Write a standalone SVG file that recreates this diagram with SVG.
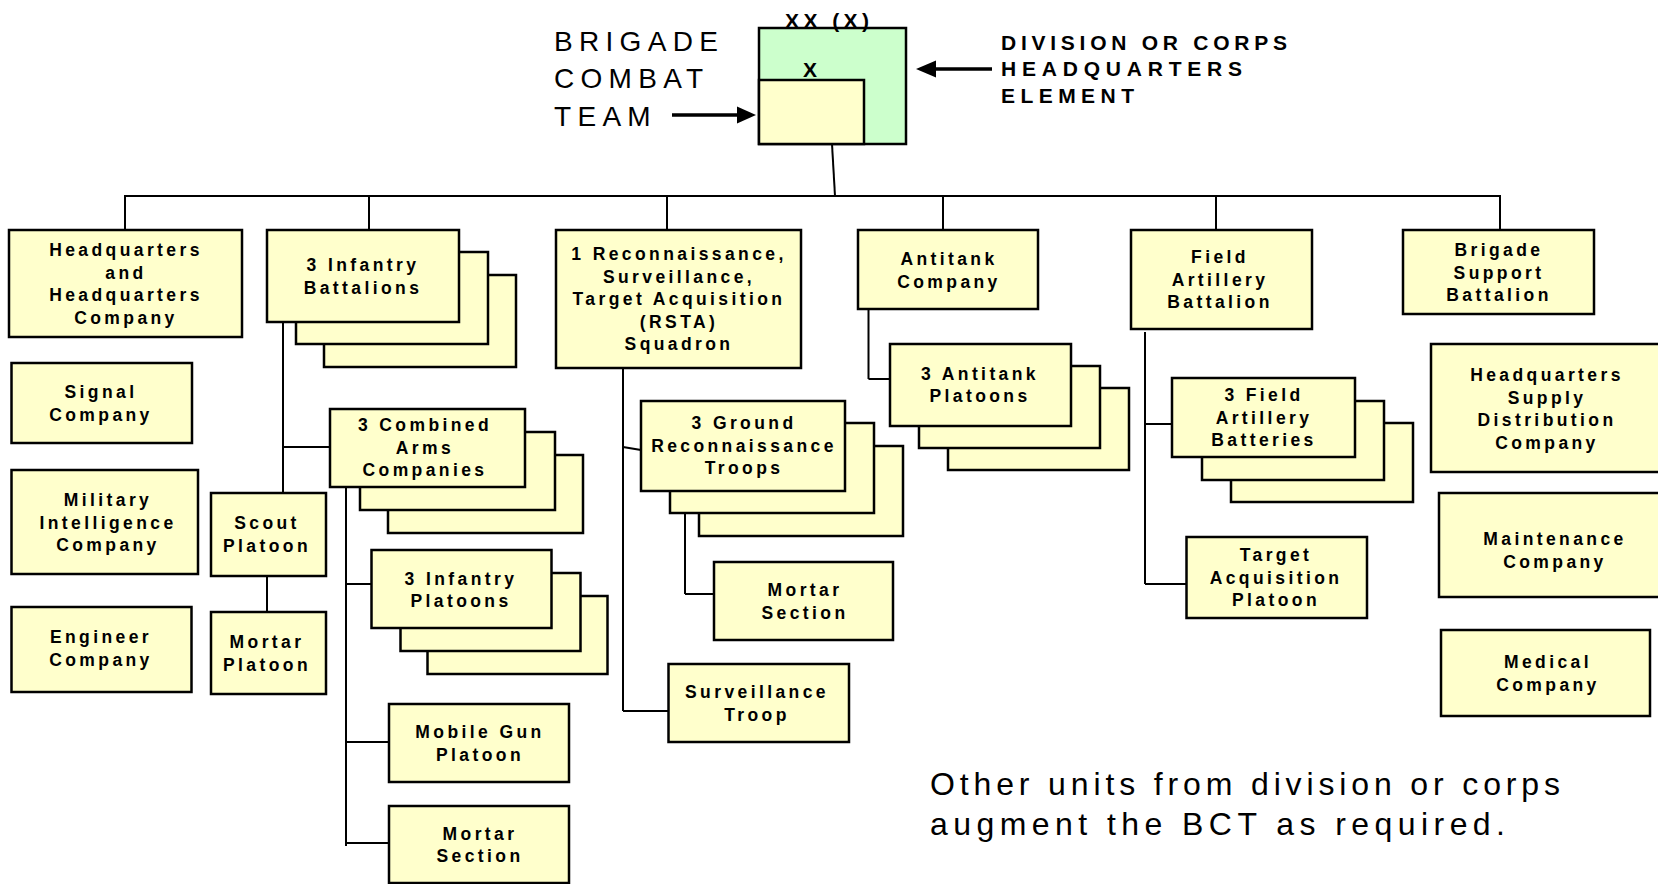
<svg xmlns="http://www.w3.org/2000/svg" width="1658" height="884" viewBox="0 0 1658 884">
<style>
.box{fill:#FFFFCC;stroke:#000;stroke-width:2.5}
.green{fill:#CCFFCC;stroke:#000;stroke-width:2.5}
.t{font-family:"Liberation Sans",Arial,sans-serif;font-weight:bold;font-size:17.5px;letter-spacing:3.4px;text-anchor:middle;fill:#000}
.big{font-family:"Liberation Sans",Arial,sans-serif;font-size:28px;letter-spacing:6.3px;fill:#000}
.hdr{font-family:"Liberation Sans",Arial,sans-serif;font-weight:bold;font-size:21px;fill:#000}
.note{font-family:"Liberation Sans",Arial,sans-serif;font-size:32px;fill:#000}
.conn line{stroke:#000;stroke-width:2;fill:none}
.arr{stroke:#000;stroke-width:3.5}
</style>
<rect width="1658" height="884" fill="#fff"/>

<g id="bct">
<rect class="green" x="759" y="28" width="147" height="116"/>
<rect class="box" x="759" y="80" width="105" height="64"/>
<text class="hdr" x="785" y="28" textLength="84" lengthAdjust="spacing">XX (X)</text>
<text class="hdr" x="810" y="77" text-anchor="middle" font-size="18">X</text>
</g>

<g id="label-bct">
<text class="big" x="554" y="51">BRIGADE</text>
<text class="big" x="554" y="88">COMBAT</text>
<text class="big" x="554" y="126">TEAM</text>
<line class="arr" x1="672" y1="115" x2="740" y2="115"/>
<polygon points="737,106.5 756,115 737,123.5" fill="#000"/>
</g>

<g id="label-div">
<text class="hdr" x="1001" y="50" textLength="286" lengthAdjust="spacing">DIVISION OR CORPS</text>
<text class="hdr" x="1001" y="76" textLength="241" lengthAdjust="spacing">HEADQUARTERS</text>
<text class="hdr" x="1001" y="103" textLength="133" lengthAdjust="spacing">ELEMENT</text>
<line class="arr" x1="933" y1="69" x2="992" y2="69"/>
<polygon points="936,60.5 916,69 936,77.5" fill="#000"/>
</g>

<g id="connectors" class="conn">
<line x1="832" y1="144" x2="835" y2="196"/>
<line x1="124" y1="196" x2="1501" y2="196"/>
<line x1="125" y1="196" x2="125" y2="230"/>
<line x1="369" y1="196" x2="369" y2="230"/>
<line x1="667" y1="196" x2="667" y2="230"/>
<line x1="943" y1="196" x2="943" y2="230"/>
<line x1="1216" y1="196" x2="1216" y2="230"/>
<line x1="1500" y1="196" x2="1500" y2="230"/>
<line x1="283" y1="322" x2="283" y2="493"/>
<line x1="283" y1="447" x2="330" y2="447"/>
<line x1="267" y1="576" x2="267" y2="612"/>
<line x1="346" y1="487" x2="346" y2="846"/>
<line x1="346" y1="584" x2="371.5" y2="584"/>
<line x1="346" y1="742" x2="389" y2="742"/>
<line x1="346" y1="843" x2="389" y2="843"/>
<line x1="623" y1="368" x2="623" y2="711"/>
<line x1="623" y1="711" x2="668.5" y2="711"/>
<line x1="623" y1="447" x2="641" y2="450"/>
<line x1="685" y1="491" x2="685" y2="594"/>
<line x1="685" y1="594" x2="714" y2="594"/>
<line x1="868.5" y1="307" x2="868.5" y2="379"/>
<line x1="868.5" y1="379" x2="890" y2="379"/>
<line x1="1145" y1="332" x2="1145" y2="584"/>
<line x1="1145" y1="424" x2="1172" y2="424"/>
<line x1="1145" y1="584" x2="1186.5" y2="584"/>
</g>

<g id="hhc">
<rect class="box" x="9" y="230" width="233" height="107"/>
<text class="t" x="126" y="256">Headquarters</text>
<text class="t" x="126" y="278.5">and</text>
<text class="t" x="126" y="301">Headquarters</text>
<text class="t" x="126" y="323.5">Company</text>
</g>

<g id="signal">
<rect class="box" x="11.5" y="363" width="180.5" height="80"/>
<text class="t" x="101" y="398">Signal</text>
<text class="t" x="101" y="420.5">Company</text>
</g>

<g id="mi">
<rect class="box" x="11.5" y="470" width="186.5" height="104"/>
<text class="t" x="108" y="506">Military</text>
<text class="t" x="108" y="528.5">Intelligence</text>
<text class="t" x="108" y="551">Company</text>
</g>

<g id="engineer">
<rect class="box" x="11.5" y="607" width="180" height="85"/>
<text class="t" x="101" y="643">Engineer</text>
<text class="t" x="101" y="665.5">Company</text>
</g>

<g id="inf-bn">
<rect class="box" x="324" y="275" width="192" height="92"/>
<rect class="box" x="296" y="252" width="192" height="92"/>
<rect class="box" x="267" y="230" width="192" height="92"/>
<text class="t" x="363" y="271">3 Infantry</text>
<text class="t" x="363" y="293.5">Battalions</text>
</g>

<g id="scout">
<rect class="box" x="211" y="493" width="115" height="83"/>
<text class="t" x="267" y="529">Scout</text>
<text class="t" x="267" y="551.5">Platoon</text>
</g>

<g id="mortar-plt">
<rect class="box" x="211" y="612" width="115" height="82"/>
<text class="t" x="267" y="648">Mortar</text>
<text class="t" x="267" y="670.5">Platoon</text>
</g>

<g id="cab-co">
<rect class="box" x="388" y="455" width="195" height="78"/>
<rect class="box" x="360" y="432" width="195" height="78"/>
<rect class="box" x="330" y="409" width="195" height="78"/>
<text class="t" x="425" y="431">3 Combined</text>
<text class="t" x="425" y="453.5">Arms</text>
<text class="t" x="425" y="476">Companies</text>
</g>

<g id="inf-plt">
<rect class="box" x="427.5" y="596" width="180" height="78"/>
<rect class="box" x="400.5" y="573" width="180" height="78"/>
<rect class="box" x="371.5" y="550" width="180" height="78"/>
<text class="t" x="461" y="584.5">3 Infantry</text>
<text class="t" x="461" y="607">Platoons</text>
</g>

<g id="mgs">
<rect class="box" x="389" y="704" width="180" height="78"/>
<text class="t" x="480" y="738">Mobile Gun</text>
<text class="t" x="480" y="760.5">Platoon</text>
</g>

<g id="mortar-sec-1">
<rect class="box" x="389" y="806" width="180" height="77"/>
<text class="t" x="480" y="839.5">Mortar</text>
<text class="t" x="480" y="862">Section</text>
</g>

<g id="rsta">
<rect class="box" x="556" y="230" width="245" height="138"/>
<text class="t" x="679" y="260">1 Reconnaissance,</text>
<text class="t" x="679" y="282.5">Surveillance,</text>
<text class="t" x="679" y="305">Target Acquisition</text>
<text class="t" x="679" y="327.5">(RSTA)</text>
<text class="t" x="679" y="350">Squadron</text>
</g>

<g id="grd-recon">
<rect class="box" x="699" y="446" width="204" height="90"/>
<rect class="box" x="670" y="423" width="204" height="90"/>
<rect class="box" x="641" y="401" width="204" height="90"/>
<text class="t" x="744" y="429">3 Ground</text>
<text class="t" x="744" y="451.5">Reconnaissance</text>
<text class="t" x="744" y="474">Troops</text>
</g>

<g id="mortar-sec-2">
<rect class="box" x="714" y="562" width="179" height="78"/>
<text class="t" x="805" y="596">Mortar</text>
<text class="t" x="805" y="618.5">Section</text>
</g>

<g id="surv-troop">
<rect class="box" x="668.5" y="664" width="180.5" height="78"/>
<text class="t" x="757" y="698">Surveillance</text>
<text class="t" x="757" y="720.5">Troop</text>
</g>

<g id="at-co">
<rect class="box" x="858" y="230" width="180" height="79"/>
<text class="t" x="949" y="265">Antitank</text>
<text class="t" x="949" y="287.5">Company</text>
</g>

<g id="at-plt">
<rect class="box" x="948" y="388" width="181" height="82"/>
<rect class="box" x="919" y="366" width="181" height="82"/>
<rect class="box" x="890" y="344" width="181" height="82"/>
<text class="t" x="980" y="379.5">3 Antitank</text>
<text class="t" x="980" y="402">Platoons</text>
</g>

<g id="fa-bn">
<rect class="box" x="1131" y="230" width="181" height="99"/>
<text class="t" x="1220" y="263">Field</text>
<text class="t" x="1220" y="285.5">Artillery</text>
<text class="t" x="1220" y="308">Battalion</text>
</g>

<g id="fa-btry">
<rect class="box" x="1231" y="423" width="182" height="79"/>
<rect class="box" x="1202" y="401" width="182" height="79"/>
<rect class="box" x="1172" y="378" width="183" height="79"/>
<text class="t" x="1264" y="401">3 Field</text>
<text class="t" x="1264" y="423.5">Artillery</text>
<text class="t" x="1264" y="446">Batteries</text>
</g>

<g id="ta-plt">
<rect class="box" x="1186.5" y="537" width="180.5" height="81"/>
<text class="t" x="1276" y="561">Target</text>
<text class="t" x="1276" y="583.5">Acquisition</text>
<text class="t" x="1276" y="606">Platoon</text>
</g>

<g id="bsb">
<rect class="box" x="1403" y="230" width="191" height="84"/>
<text class="t" x="1499" y="256">Brigade</text>
<text class="t" x="1499" y="278.5">Support</text>
<text class="t" x="1499" y="301">Battalion</text>
</g>

<g id="hq-supply">
<rect class="box" x="1431" y="344" width="235" height="128"/>
<text class="t" x="1547" y="381">Headquarters</text>
<text class="t" x="1547" y="403.5">Supply</text>
<text class="t" x="1547" y="426">Distribution</text>
<text class="t" x="1547" y="448.5">Company</text>
</g>

<g id="maint">
<rect class="box" x="1439" y="493" width="225" height="104"/>
<text class="t" x="1555" y="545">Maintenance</text>
<text class="t" x="1555" y="567.5">Company</text>
</g>

<g id="medical">
<rect class="box" x="1441" y="630" width="209" height="86"/>
<text class="t" x="1548" y="668">Medical</text>
<text class="t" x="1548" y="690.5">Company</text>
</g>

<g id="note">
<text class="note" x="930" y="795" textLength="630" lengthAdjust="spacing">Other units from division or corps</text>
<text class="note" x="930" y="835" textLength="575" lengthAdjust="spacing">augment the BCT as required.</text>
</g>
</svg>
